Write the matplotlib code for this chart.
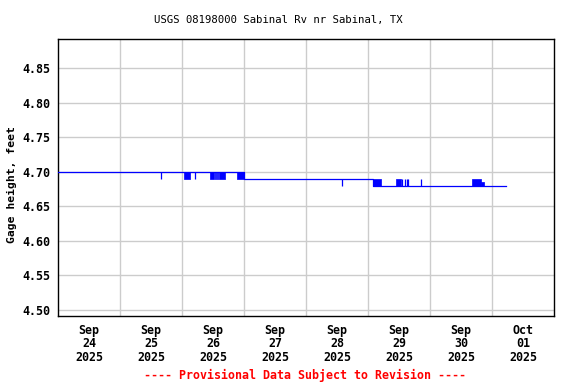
import matplotlib
matplotlib.use("Agg")
import matplotlib.pyplot as plt
import matplotlib.dates as mdates
import pandas as pd

# ---- data ----
base_times = ["2025-09-24 00:00", "2025-09-26 23:50", "2025-09-29 02:00", "2025-10-01 05:30"]
base_values = [4.70, 4.69, 4.68, 4.68]

spike_times = ["2025-09-25 15:45", "2025-09-26 05:00", "2025-09-28 13:45",
               "2025-09-29 13:19", "2025-09-29 14:12", "2025-09-29 15:06",
               "2025-09-29 15:29", "2025-09-29 20:20"]
spike_low = [4.69, 4.69, 4.68, 4.68, 4.68, 4.68, 4.68, 4.68]
spike_high = [4.70, 4.70, 4.69, 4.69, 4.69, 4.69, 4.69, 4.69]

band_start = ["2025-09-26 00:46", "2025-09-26 10:43", "2025-09-26 12:39", "2025-09-26 13:26",
              "2025-09-26 14:13", "2025-09-26 21:17", "2025-09-29 01:56", "2025-09-29 10:43",
              "2025-09-30 16:09", "2025-09-30 19:54"]
band_end = ["2025-09-26 03:06", "2025-09-26 12:16", "2025-09-26 13:02", "2025-09-26 13:48",
            "2025-09-26 16:39", "2025-09-26 23:53", "2025-09-29 05:11", "2025-09-29 12:56",
            "2025-09-30 19:54", "2025-09-30 20:54"]
band_low = [4.69, 4.69, 4.69, 4.69, 4.69, 4.69, 4.68, 4.68, 4.68, 4.68]
band_high = [4.70, 4.70, 4.70, 4.70, 4.70, 4.70, 4.69, 4.69, 4.69, 4.685]

tick_days = ["2025-09-24", "2025-09-25", "2025-09-26", "2025-09-27",
             "2025-09-28", "2025-09-29", "2025-09-30", "2025-10-01"]
y_ticks = [4.50, 4.55, 4.60, 4.65, 4.70, 4.75, 4.80, 4.85]

title = "USGS 08198000 Sabinal Rv nr Sabinal, TX"
ylabel = "Gage height, feet"
footer = "---- Provisional Data Subject to Revision ----"

# ---- plot ----
W, H = 576, 384
fig = plt.figure(figsize=(W / 100, H / 100), dpi=100)
ax = fig.add_axes([58 / W, 1 - 316 / H, (554 - 58) / W, (316 - 39) / H])

blue = "#0000ff"
bt = pd.to_datetime(base_times)
ax.plot(bt, base_values, color=blue, lw=0.9, drawstyle="steps-post", zorder=3)
st = pd.to_datetime(spike_times)
ax.vlines(st, spike_low, spike_high, color=blue, lw=0.9, zorder=3)
for s, e, lo, hi in zip(pd.to_datetime(band_start), pd.to_datetime(band_end), band_low, band_high):
    ax.fill_between([s, e], [lo, lo], [hi, hi], color=blue, lw=0.5, zorder=3)

days = pd.to_datetime(tick_days)
ax.set_xlim(days[0], days[-1] + pd.Timedelta(days=1))
ax.set_ylim(4.4913, 4.892)

ax.set_xticks(list(days[1:]))
ax.set_xticklabels([])
ax.set_xticks([d + pd.Timedelta(hours=12) for d in days], minor=True)
ax.set_xticklabels([f"{d.strftime('%b')}\n{d.strftime('%d')}\n{d.year}" for d in days],
                   minor=True, family="DejaVu Sans Mono", fontweight="bold",
                   fontsize=8.4, linespacing=1.06)
ax.tick_params(axis="x", which="both", length=0, pad=5.5)

ax.set_yticks(y_ticks)
ax.set_yticklabels([f"{v:.2f}" for v in y_ticks], family="DejaVu Sans Mono",
                   fontweight="bold", fontsize=8.4)
ax.tick_params(axis="y", length=0, pad=5.5)

ax.grid(True, which="major", color="#cccccc", lw=1)
ax.set_axisbelow(True)
for sp in ax.spines.values():
    sp.set_color("black")
    sp.set_linewidth(1)

fig.text(278 / W, 1 - 19.5 / H, title, ha="center", va="center",
         family="DejaVu Sans Mono", fontsize=7.7)
fig.text(11.5 / W, 1 - 184.5 / H, ylabel, ha="center", va="center", rotation=90,
         family="DejaVu Sans Mono", fontweight="bold", fontsize=8.2)
fig.text(305 / W, 1 - 375 / H, footer, ha="center", va="center", color="red",
         family="DejaVu Sans Mono", fontweight="bold", fontsize=8.4)

fig.savefig("out.png", dpi=100)
